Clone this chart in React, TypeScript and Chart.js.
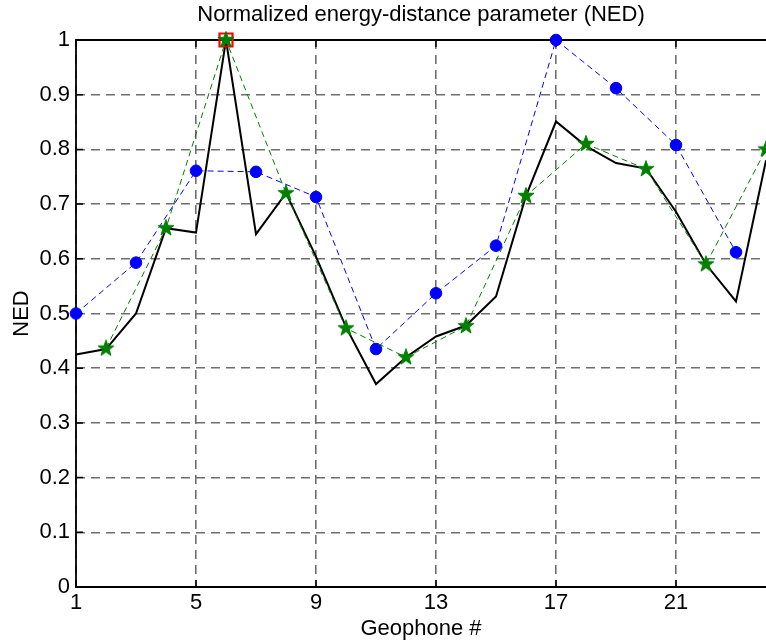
import React, { useEffect, useRef } from 'react';
import { Chart, registerables } from 'chart.js';

Chart.register(...registerables);

const geophones = [1, 2, 3, 4, 5, 6, 7, 8, 9, 10, 11, 12, 13, 14, 15, 16, 17, 18, 19, 20, 21, 22, 23, 24];
const nedSolid = [0.425, 0.435, 0.5, 0.656, 0.648, 1.0, 0.645, 0.72, 0.604, 0.475, 0.371, 0.42, 0.458, 0.478, 0.531, 0.715, 0.851, 0.806, 0.775, 0.765, 0.686, 0.59, 0.522, 0.78];

const oddGeophones = [1, 3, 5, 7, 9, 11, 13, 15, 17, 19, 21, 23];
const nedOdd = [0.5, 0.593, 0.761, 0.759, 0.713, 0.435, 0.537, 0.624, 1.0, 0.912, 0.808, 0.612];

const evenGeophones = [2, 4, 6, 8, 10, 12, 14, 16, 18, 20, 22, 24];
const nedEven = [0.436, 0.656, 1.0, 0.72, 0.473, 0.42, 0.477, 0.715, 0.81, 0.764, 0.59, 0.8];

const peakGeophone = [6];
const peakValue = [1.0];

const xTickValues = [1, 5, 9, 13, 17, 21];
const yTickValues = [0, 0.1, 0.2, 0.3, 0.4, 0.5, 0.6, 0.7, 0.8, 0.9, 1];
const yTickLabels = ['0', '0.1', '0.2', '0.3', '0.4', '0.5', '0.6', '0.7', '0.8', '0.9', '1'];

const FONT = 'Liberation Sans, Arial, Helvetica, sans-serif';

function makeStar(color: string, outer: number, inner: number) {
  const size = Math.ceil(outer * 2 + 3);
  const c = document.createElement('canvas');
  c.width = size;
  c.height = size;
  const ctx = c.getContext('2d')!;
  ctx.translate(size / 2, size / 2);
  ctx.beginPath();
  for (let i = 0; i < 10; i++) {
    const r = i % 2 === 0 ? outer : inner;
    const a = -Math.PI / 2 + (i * Math.PI) / 5;
    ctx.lineTo(r * Math.cos(a), r * Math.sin(a));
  }
  ctx.closePath();
  ctx.fillStyle = color;
  ctx.fill();
  ctx.strokeStyle = color;
  ctx.lineWidth = 1;
  ctx.stroke();
  return c;
}

const boxPlugin = {
  id: 'axesBox',
  beforeDatasetsDraw(chart: any) {
    const { ctx, chartArea, scales } = chart;
    const { left, top, right, bottom } = chartArea;
    ctx.save();
    ctx.strokeStyle = '#000';
    ctx.lineWidth = 1.8;
    ctx.beginPath();
    ctx.moveTo(right, top);
    ctx.lineTo(left, top);
    ctx.lineTo(left, bottom);
    ctx.lineTo(right, bottom);
    ctx.stroke();
    // inward tick marks
    ctx.lineWidth = 1.5;
    ctx.beginPath();
    const tl = 7;
    yTickValues.forEach((v) => {
      const y = scales.y.getPixelForValue(v);
      ctx.moveTo(left, y);
      ctx.lineTo(left + tl, y);
    });
    xTickValues.forEach((v) => {
      const x = scales.x.getPixelForValue(v);
      ctx.moveTo(x, bottom);
      ctx.lineTo(x, bottom - tl);
      ctx.moveTo(x, top);
      ctx.lineTo(x, top + tl);
    });
    ctx.stroke();
    ctx.restore();
  },
};

export default function App() {
  const ref = useRef<HTMLCanvasElement | null>(null);

  useEffect(() => {
    if (!ref.current) return;
    const star = makeStar('#008000', 8.5, 3.4);
    const font = { family: FONT, size: 22, weight: 'normal' as const };

    const chart = new Chart(ref.current, {
      type: 'line',
      data: {
        datasets: [
          {
            label: 'even',
            data: evenGeophones.map((g, i) => ({ x: g, y: nedEven[i] })),
            borderColor: '#008000',
            borderWidth: 1,
            borderDash: [6, 4],
            pointStyle: star as any,
            pointRadius: 8,
            backgroundColor: '#008000',
            clip: false as any,
            tension: 0,
          },
          {
            label: 'peak',
            data: peakGeophone.map((g, i) => ({ x: g, y: peakValue[i] })),
            showLine: false,
            pointStyle: 'rect',
            pointRadius: 9.2,
            pointBorderWidth: 2.2,
            borderColor: '#ff0000',
            pointBorderColor: '#ff0000',
            pointBackgroundColor: 'rgba(0,0,0,0)',
            backgroundColor: 'rgba(0,0,0,0)',
            clip: false as any,
          },
          {
            label: 'odd',
            data: oddGeophones.map((g, i) => ({ x: g, y: nedOdd[i] })),
            borderColor: '#0000ff',
            borderWidth: 1,
            borderDash: [6, 4],
            pointStyle: 'circle',
            pointRadius: 5.8,
            pointBorderWidth: 1,
            pointBackgroundColor: '#0000ff',
            pointBorderColor: '#0000ff',
            backgroundColor: '#0000ff',
            clip: false as any,
            tension: 0,
          },
          {
            label: 'solid',
            data: geophones.map((g, i) => ({ x: g, y: nedSolid[i] })),
            borderColor: '#000000',
            borderWidth: 2,
            pointRadius: 0,
            clip: false as any,
            tension: 0,
          },
        ],
      },
      options: {
        animation: false,
        responsive: false,
        events: [],
        layout: { padding: 0, autoPadding: false },
        plugins: {
          legend: { display: false },
          tooltip: { enabled: false },
          title: {
            display: true,
            text: 'Normalized energy-distance parameter (NED)',
            fullSize: false,
            color: '#000',
            font,
            padding: { top: 2, bottom: 11.6 },
          },
        },
        scales: {
          x: {
            type: 'linear',
            min: 1,
            max: 24,
            afterBuildTicks: (s: any) => {
              s.ticks = xTickValues.map((v) => ({ value: v }));
            },
            afterFit: (s: any) => {
              s.height = 56;
              s.paddingLeft = 0;
              s.paddingRight = 0;
            },
            ticks: {
              color: '#000',
              font,
              padding: 3,
              maxRotation: 0,
              autoSkip: false,
              callback: (v: any) => String(v),
            },
            grid: { color: '#6e6e6e', lineWidth: 1.6, drawTicks: false },
            border: { display: false, dash: [9, 6] },
            title: {
              display: true,
              text: 'Geophone #',
              color: '#000',
              font,
              padding: { top: 0, bottom: 1 },
            },
          },
          y: {
            type: 'linear',
            min: 0,
            max: 1,
            afterBuildTicks: (s: any) => {
              s.ticks = yTickValues.map((v) => ({ value: v }));
            },
            afterFit: (s: any) => {
              s.width = 76;
            },
            ticks: {
              color: '#000',
              font,
              padding: 6,
              autoSkip: false,
              callback: (_v: any, i: number) => yTickLabels[i],
            },
            grid: { color: '#6e6e6e', lineWidth: 1.6, drawTicks: false },
            border: { display: false, dash: [9, 6] },
            title: {
              display: true,
              text: 'NED',
              color: '#000',
              font,
              padding: { top: 8.5, bottom: 0 },
            },
          },
        },
      },
      plugins: [boxPlugin],
    } as any);

    return () => chart.destroy();
  }, []);

  return (
    <div style={{ position: 'absolute', left: 0, top: 0, width: 766, height: 643, background: '#fff' }}>
      <canvas ref={ref} width={766} height={643} style={{ display: 'block' }} />
    </div>
  );
}
